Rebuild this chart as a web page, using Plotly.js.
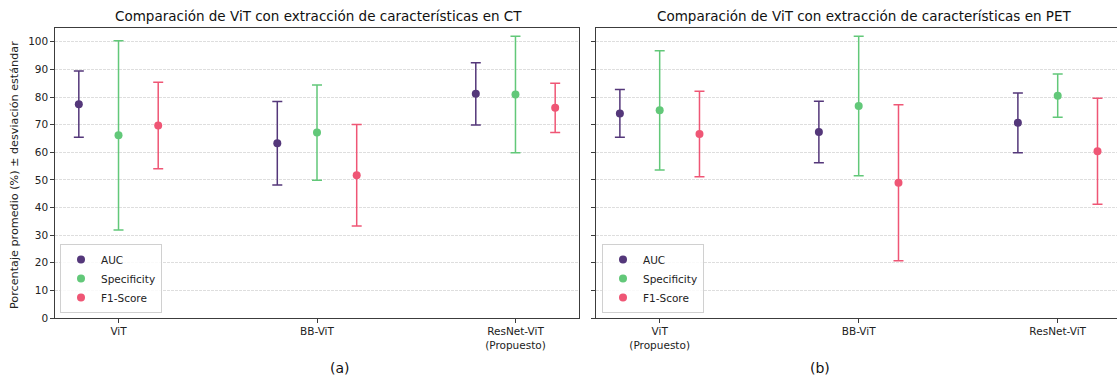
<!DOCTYPE html>
<html>
<head>
<meta charset="utf-8">
<script src="https://cdn.plot.ly/plotly-3.0.1.min.js"></script>
<style>html,body{margin:0;padding:0;background:#fff;}#chart{width:1117px;height:379px;}</style>
</head>
<body>
<div id="chart"></div>
<script>
// ---- Data ----
const metrics = ['AUC', 'Specificity', 'F1-Score'];
const colors = ['#54377a', '#62c879', '#ef5675'];

const ctModels = ['ViT', 'BB-ViT', 'ResNet-ViT<br>(Propuesto)'];
const ctMean = {
  'AUC':         [77.4, 63.3, 81.15],
  'Specificity': [66.15, 67.15, 80.95],
  'F1-Score':    [69.7, 51.7, 76.1]
};
const ctStd = {
  'AUC':         [12.0, 15.1, 11.25],
  'Specificity': [34.25, 17.25, 21.1],
  'F1-Score':    [15.7, 18.4, 8.9]
};

const petModels = ['ViT<br>(Propuesto)', 'BB-ViT', 'ResNet-ViT'];
const petMean = {
  'AUC':         [74.05, 67.35, 70.65],
  'Specificity': [75.2, 76.75, 80.5],
  'F1-Score':    [66.6, 48.95, 60.4]
};
const petStd = {
  'AUC':         [8.65, 11.15, 10.85],
  'Specificity': [21.6, 25.25, 7.8],
  'F1-Score':    [15.5, 28.25, 19.2]
};

const ctTitle = 'Comparación de ViT con extracción de características en CT';
const petTitle = 'Comparación de ViT con extracción de características en PET';
const yLabel = 'Porcentaje promedio (%) ± desviación estándar';
const yTicks = [0,10,20,30,40,50,60,70,80,90,100];

// ---- Layout helpers ----
const W = 1117, H = 379;
const px = v => v / W;
const py = v => (H - v) / H;
const FONT = 'DejaVu Sans, sans-serif';
const offset = 0.2;

const traces = [];
function addPanel(means, stds, models, xa, ya, legendName) {
  metrics.forEach((m, k) => {
    traces.push({
      type: 'scatter', mode: 'markers',
      name: m,
      x: models.map((_, i) => i + (k - 1) * offset),
      y: means[m],
      error_y: {type: 'data', array: stds[m], visible: true, color: colors[k], thickness: 1.5, width: 5},
      marker: {color: colors[k], size: 8},
      xaxis: xa, yaxis: ya,
      legend: legendName,
      showlegend: true
    });
  });
}
addPanel(ctMean, ctStd, ctModels, 'x', 'y', 'legend');
addPanel(petMean, petStd, petModels, 'x2', 'y2', 'legend2');

const axisLine = '#3c3c3c';
const yDomain = [py(318), py(28)];
const baseY = {
  range: [0, 105], tickvals: yTicks, ticks: 'outside', ticklen: 3.5, tickwidth: 1, tickcolor: axisLine,
  showline: true, linecolor: axisLine, linewidth: 1.2,
  showgrid: true, gridcolor: '#d6d6d6', griddash: '2.5px,1.5px', gridwidth: 0.8,
  zeroline: false, domain: yDomain, automargin: false,
  tickfont: {family: FONT, size: 10.5, color: '#222'}
};
const baseX = {
  tickvals: [0, 1, 2], ticks: 'outside', ticklen: 3.5, tickwidth: 1, tickcolor: axisLine,
  showline: true, linecolor: axisLine, linewidth: 1.2, mirror: true,
  showgrid: false, zeroline: false, automargin: false,
  tickfont: {family: FONT, size: 10.5, color: '#222'}
};
const legendBase = {
  bgcolor: 'rgba(255,255,255,0.85)', bordercolor: '#d0d0d0', borderwidth: 1,
  font: {family: FONT, size: 10.5, color: '#222'},
  xanchor: 'left', yanchor: 'bottom', tracegroupgap: 0, itemwidth: 30
};

const layout = {
  width: W, height: H,
  margin: {l: 0, r: 0, t: 0, b: 0},
  paper_bgcolor: '#fff', plot_bgcolor: '#fff',
  showlegend: true,
  xaxis: Object.assign({}, baseX, {domain: [px(55), px(579)], range: [-0.32, 2.32], ticktext: ctModels, anchor: 'y'}),
  yaxis: Object.assign({}, baseY, {anchor: 'x', mirror: true}),
  xaxis2: Object.assign({}, baseX, {domain: [px(596), 1], range: [-0.32, 2.298], ticktext: petModels, anchor: 'y2'}),
  yaxis2: Object.assign({}, baseY, {anchor: 'x2', mirror: false, showticklabels: false}),
  legend: Object.assign({}, legendBase, {x: px(60), y: py(313)}),
  legend2: Object.assign({}, legendBase, {x: px(602), y: py(313)}),
  annotations: [
    {text: ctTitle, x: px(318), y: py(16), xref: 'paper', yref: 'paper', showarrow: false, xanchor: 'center', yanchor: 'middle', font: {family: FONT, size: 13.5, color: '#111'}},
    {text: petTitle, x: px(864), y: py(16), xref: 'paper', yref: 'paper', showarrow: false, xanchor: 'center', yanchor: 'middle', font: {family: FONT, size: 13.5, color: '#111'}},
    {text: yLabel, x: px(15), y: py(175), xref: 'paper', yref: 'paper', showarrow: false, textangle: -90, xanchor: 'center', yanchor: 'middle', font: {family: FONT, size: 11.2, color: '#222'}},
    {text: '(a)', x: px(340), y: py(368), xref: 'paper', yref: 'paper', showarrow: false, xanchor: 'center', yanchor: 'middle', font: {family: FONT, size: 14, color: '#111'}},
    {text: '(b)', x: px(820), y: py(368), xref: 'paper', yref: 'paper', showarrow: false, xanchor: 'center', yanchor: 'middle', font: {family: FONT, size: 14, color: '#111'}}
  ]
};

Plotly.newPlot('chart', traces, layout, {displayModeBar: false, staticPlot: true});
</script>
</body>
</html>
